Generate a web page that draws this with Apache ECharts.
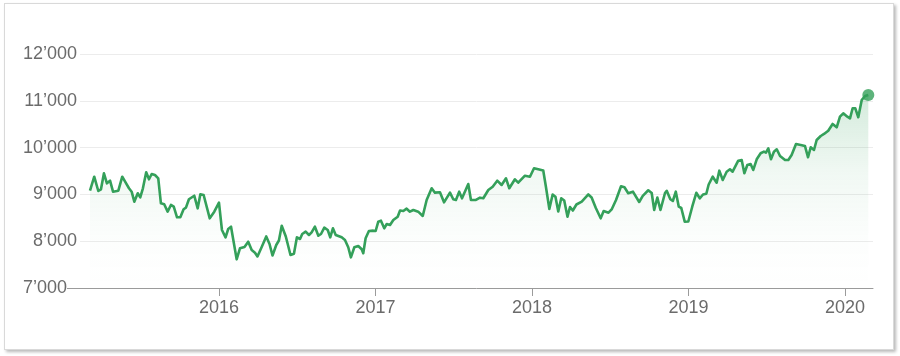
<!DOCTYPE html>
<html>
<head>
<meta charset="utf-8">
<script src="https://cdn.jsdelivr.net/npm/echarts@6/dist/echarts.min.js"></script>
<style>
  html, body { margin: 0; padding: 0; background: #ffffff; }
  #card { position: absolute; left: 4px; top: 3px; width: 888px; height: 345px;
          border: 1px solid #d9d9d9; box-shadow: 2px 2px 3px rgba(0,0,0,0.28); background: #fff; }
  #chart { position: absolute; left: 0; top: 0; width: 900px; height: 356px; }
</style>
</head>
<body>
<div id="card"></div>
<div id="chart"></div>
<script>
// Decimal-year positions of each weekly close
const weekYear = [
  2015.176,2015.203,2015.229,2015.246,2015.265,2015.284,2015.304,2015.323,
  2015.357,2015.382,2015.404,2015.425,2015.442,2015.459,2015.481,2015.497,
  2015.514,2015.535,2015.553,2015.570,2015.591,2015.612,2015.629,2015.650,
  2015.672,2015.693,2015.711,2015.732,2015.753,2015.774,2015.789,2015.808,
  2015.842,2015.864,2015.881,2015.902,2015.941,2015.970,
  2016.000,2016.019,2016.042,2016.059,2016.077,2016.113,2016.134,2016.163,2016.187,
  2016.209,2016.230,2016.246,2016.273,2016.302,2016.323,2016.342,2016.366,
  2016.383,2016.401,2016.427,2016.457,2016.479,2016.498,2016.518,2016.532,
  2016.554,2016.575,2016.592,2016.613,2016.635,2016.652,2016.673,2016.695,
  2016.711,2016.728,2016.746,2016.784,2016.805,2016.826,2016.843,2016.865,
  2016.890,2016.912,2016.922,2016.937,2016.958,2016.986,
  2017.001,2017.018,2017.035,2017.056,2017.072,2017.093,2017.114,2017.142,
  2017.157,2017.178,2017.199,2017.220,2017.242,2017.273,2017.302,2017.327,
  2017.359,2017.380,2017.412,2017.438,2017.476,2017.497,2017.514,2017.535,
  2017.553,2017.593,2017.610,2017.642,2017.668,2017.689,2017.721,2017.749,
  2017.778,2017.806,2017.834,2017.855,2017.891,2017.912,2017.955,2017.987,
  2018.013,2018.040,2018.072,2018.089,2018.111,2018.132,2018.150,2018.168,
  2018.187,2018.206,2018.227,2018.243,2018.261,2018.284,2018.318,2018.360,
  2018.381,2018.408,2018.439,2018.458,2018.489,2018.509,2018.537,2018.569,
  2018.591,2018.615,2018.645,2018.685,2018.708,2018.743,2018.765,2018.781,
  2018.801,2018.821,2018.850,2018.861,2018.884,2018.900,2018.919,2018.938,
  2018.954,2018.976,2018.999,
  2019.024,2019.050,2019.072,2019.093,2019.114,2019.129,2019.155,2019.180,
  2019.197,2019.219,2019.244,2019.265,2019.282,2019.318,2019.340,2019.357,
  2019.376,2019.397,2019.414,2019.436,2019.461,2019.482,2019.495,2019.510,
  2019.527,2019.546,2019.564,2019.585,2019.617,2019.638,2019.659,2019.687,
  2019.717,2019.744,2019.764,2019.781,2019.802,2019.819,2019.845,2019.866,
  2019.893,2019.921,2019.947,2019.968,2019.989,
  2020.015,2020.032,2020.049,2020.066,2020.085,2020.107,2020.128,2020.149
];

// Index level at each of those points
const closeValues = [
  9079,9378,9073,9109,9451,9237,9293,9058,
  9079,9378,9250,9131,9058,8844,9024,8938,
  9131,9472,9323,9436,9415,9344,8810,8789,
  8631,8774,8737,8511,8511,8682,8716,8896,
  8972,8703,9002,8987,8489,8631,
  8823,8239,8083,8261,8310,7613,7848,7876,7989,
  7812,7754,7673,7876,8101,7940,7695,7919,
  8015,8329,8101,7705,7733,8083,8047,8154,
  8203,8133,8190,8310,8118,8154,8289,8239,
  8083,8276,8133,8083,8026,7870,7656,7870,
  7898,7827,7742,8062,8218,8225,
  8218,8417,8438,8276,8368,8346,8453,8524,
  8656,8645,8695,8631,8667,8631,8539,8881,
  9131,9037,9045,8831,9037,8896,8881,9058,
  8917,9222,8881,8881,8930,8917,9094,9165,
  9293,9201,9344,9131,9323,9250,9400,9378,
  9558,9537,9511,9165,8688,8998,8951,8635,
  8917,8870,8524,8731,8656,8784,8844,8998,
  8934,8710,8489,8645,8609,8678,8881,9173,
  9152,9024,9058,8838,8970,9088,9030,8667,
  8934,8667,9030,9077,8896,8859,9058,8737,
  8710,8417,8421,
  8737,9034,8917,8998,9015,9212,9378,9250,
  9507,9308,9485,9537,9485,9720,9735,9451,
  9629,9650,9522,9750,9879,9913,9891,9985,
  9750,9913,9964,9821,9735,9735,9842,10077,
  10056,10035,9793,10007,9949,10163,10248,10291,
  10361,10505,10434,10661,10733,
  10661,10626,10840,10840,10648,11018,11103,11124
];

const yearTicks = [2016, 2017, 2018, 2019, 2020];
const valueTicks = [7000, 8000, 9000, 10000, 11000, 12000];

if (weekYear.length !== closeValues.length) {
  throw new Error('length mismatch ' + weekYear.length + ' vs ' + closeValues.length);
}

const lineData = weekYear.map((t, i) => [t, closeValues[i]]);
const lastIdx = lineData.length - 1;

const GREEN = '#34a05a';
const TEXT = '#6b6b6b';
const FONT = '"Liberation Sans", Arial, Helvetica, sans-serif';
const AXIS_MIN = 2015.112, AXIS_MAX = 2020.179;

function fmt(v) {
  return String(v).replace(/\B(?=(\d{3})+(?!\d))/g, '\u2019');
}

const chart = echarts.init(document.getElementById('chart'), null, { renderer: 'canvas' });
const option = {
  animation: false,
  backgroundColor: 'transparent',
  grid: { left: 80, right: 27, top: 54, bottom: 68, outerBoundsMode: 'none' },
  xAxis: {
    type: 'value',
    min: AXIS_MIN,
    max: AXIS_MAX,
    axisLine: { show: true, lineStyle: { color: '#9b9b9b', width: 1 } },
    axisTick: { show: true, customValues: yearTicks, length: 8, lineStyle: { color: '#9b9b9b' } },
    axisLabel: {
      customValues: yearTicks,
      formatter: v => String(Math.round(v)),
      fontSize: 18, color: TEXT, fontFamily: FONT, margin: 11
    },
    splitLine: { show: false }
  },
  yAxis: {
    type: 'value',
    min: valueTicks[0],
    max: valueTicks[valueTicks.length - 1],
    interval: 1000,
    axisLine: { show: false },
    axisTick: { show: false },
    axisLabel: {
      margin: 3,
      formatter: v => (v === valueTicks[0] ? '{e|' + fmt(v) + '}' : '{n|' + fmt(v) + '}'),
      rich: {
        n: { fontSize: 18, color: TEXT, fontFamily: FONT },
        e: { fontSize: 18, color: TEXT, fontFamily: FONT, padding: [0, 10, 0, 0] }
      }
    },
    splitLine: { show: true, lineStyle: { color: '#ececec', width: 1 } }
  },
  series: [
    {
      type: 'line',
      data: lineData,
      showSymbol: false,
      smooth: false,
      lineStyle: { color: GREEN, width: 2.6, join: 'round' },
      areaStyle: {
        origin: 'start',
        color: new echarts.graphic.LinearGradient(0, 0, 0, 1, [
          { offset: 0, color: 'rgba(52,160,90,0.30)' },
          { offset: 0.4, color: 'rgba(52,160,90,0.10)' },
          { offset: 0.75, color: 'rgba(52,160,90,0.02)' },
          { offset: 1, color: 'rgba(52,160,90,0.0)' }
        ])
      },
      z: 3
    },
    {
      type: 'scatter',
      data: [lineData[lastIdx]],
      symbolSize: 12,
      itemStyle: { color: GREEN },
      z: 4
    }
  ]
};
chart.setOption(option);

// extend the baseline to the left, as in the reference
const p = chart.convertToPixel({ gridIndex: 0 }, [AXIS_MIN, valueTicks[0]]);
chart.setOption({
  graphic: [{
    type: 'line',
    shape: { x1: p[0] - 13, y1: Math.round(p[1]) + 0.5, x2: p[0], y2: Math.round(p[1]) + 0.5 },
    style: { stroke: '#9b9b9b', lineWidth: 1 },
    silent: true
  }]
});
</script>
</body>
</html>
